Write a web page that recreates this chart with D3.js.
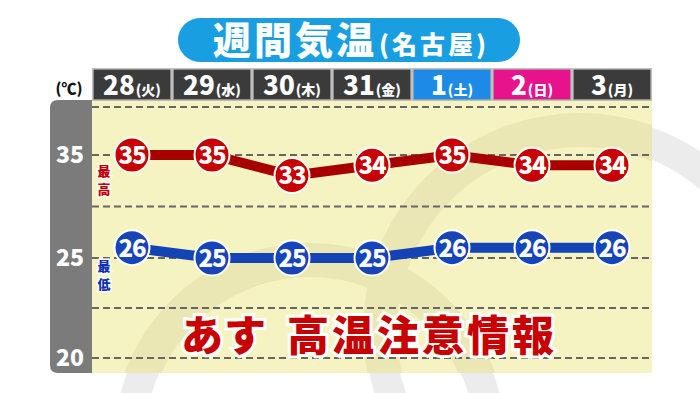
<!DOCTYPE html>
<html>
<head>
<meta charset="utf-8">
<script src="https://cdn.jsdelivr.net/npm/d3@7"></script>
<style>
  body { margin: 0; background: #fff; }
  svg { display: block; font-family: "Noto Sans CJK JP", "Noto Sans", sans-serif; }
</style>
</head>
<body>
<div id="chart"></div>
<script>
// data
var days = ["28", "29", "30", "31", "1", "2", "3"];
var weekdays = ["火", "水", "木", "金", "土", "日", "月"];
var highs = [35, 35, 33, 34, 35, 34, 34];
var lows = [26, 25, 25, 25, 26, 26, 26];
var tickLabels = [35, 25, 20];
var gridValues = [20, 22.5, 25, 30, 35, 40];

var w = 700, h = 393;
var plotL = 92, plotR = 652, plotT = 100, plotB = 373;

var svg = d3.select("#chart").append("svg")
    .attr("width", w)
    .attr("height", h);

svg.append("clipPath").attr("id", "plotClip")
    .append("rect")
    .attr("x", plotL).attr("y", plotT)
    .attr("width", plotR - plotL).attr("height", plotB - plotT);

// faint background decoration
var deco = svg.append("g").attr("fill", "none").attr("stroke", "#ececec").attr("stroke-width", 30);
deco.append("circle").attr("cx", 310).attr("cy", 440).attr("r", 180);
deco.append("circle").attr("cx", 580).attr("cy", 330).attr("r", 200);

// plot area
svg.append("rect")
    .attr("x", plotL).attr("y", plotT)
    .attr("width", plotR - plotL).attr("height", plotB - plotT)
    .attr("fill", "#f6f3c2");

var deco2 = svg.append("g").attr("clip-path", "url(#plotClip)")
    .attr("fill", "none").attr("stroke", "#ebe7b4").attr("stroke-width", 34);
deco2.append("circle").attr("cx", 310).attr("cy", 440).attr("r", 180);
deco2.append("circle").attr("cx", 580).attr("cy", 330).attr("r", 200);

// scales (broken axis)
var x = d3.scaleBand().domain(days).range([plotL, plotR]).padding(0);
var y = d3.scaleLinear().domain([20, 25, 35, 40]).range([358, 258, 155, 107]);
var cx = function(d, i) { return x(days[i]) + x.bandwidth() / 2; };

// gray axis band
svg.append("path")
    .attr("d", "M" + plotL + "," + plotT + " H58 Q50," + plotT + " 50," + (plotT + 8) +
        " V" + (plotB - 8) + " Q50," + plotB + " 58," + plotB + " H" + plotL + " Z")
    .attr("fill", "#7b7b7b");

svg.selectAll("text.tick")
    .data(tickLabels)
    .enter().append("text")
    .attr("class", "tick")
    .attr("x", 70)
    .attr("y", function(d) { return y(d); })
    .attr("dy", "0.36em")
    .attr("text-anchor", "middle")
    .attr("fill", "#fff")
    .attr("font-size", 23)
    .attr("font-weight", 900)
    .text(function(d) { return d; });

// grid lines
svg.selectAll("line.grid")
    .data(gridValues)
    .enter().append("line")
    .attr("class", "grid")
    .attr("x1", plotL).attr("x2", plotR)
    .attr("y1", function(d) { return y(d); })
    .attr("y2", function(d) { return y(d); })
    .attr("stroke", "#666")
    .attr("stroke-width", 2)
    .attr("stroke-dasharray", "7,4");

// title
svg.append("rect")
    .attr("x", 178).attr("y", 18)
    .attr("width", 342).attr("height", 44)
    .attr("rx", 22)
    .attr("fill", "#1a9ee2");
var title = svg.append("text")
    .attr("x", 351).attr("y", 54)
    .attr("text-anchor", "middle")
    .attr("fill", "#fff")
    .attr("font-weight", 900);
title.append("tspan").attr("font-size", 38).attr("letter-spacing", 3).text("週間気温");
title.append("tspan").attr("font-size", 25).attr("letter-spacing", 3).attr("dx", 2).text("(名古屋)");

// unit
svg.append("text")
    .attr("x", 69).attr("y", 94)
    .attr("text-anchor", "middle")
    .attr("font-size", 15)
    .attr("font-weight", 900)
    .attr("fill", "#111")
    .text("(℃)");

// header boxes
var boxColor = function(i) {
    if (weekdays[i] === "土") return "#1c8ae6";
    if (weekdays[i] === "日") return "#e8138c";
    return "#3b3b3b";
};
var head = svg.selectAll("g.head")
    .data(days)
    .enter().append("g")
    .attr("class", "head");
head.append("rect")
    .attr("x", function(d) { return x(d) + 1; })
    .attr("y", 69)
    .attr("width", x.bandwidth() - 2)
    .attr("height", 31)
    .attr("fill", function(d, i) { return boxColor(i); })
    .attr("stroke", "#aaa")
    .attr("stroke-width", 1.5);
var ht = head.append("text")
    .attr("x", function(d, i) { return cx(d, i); })
    .attr("y", 95)
    .attr("text-anchor", "middle")
    .attr("fill", "#fff")
    .attr("font-weight", 900);
ht.append("tspan").attr("font-size", 26).text(function(d) { return d; });
ht.append("tspan").attr("font-size", 14).attr("dx", 1).text(function(d, i) { return "(" + weekdays[i] + ")"; });

// series
function drawSeries(values, lineColor, dotColor) {
    var line = d3.line()
        .x(function(d, i) { return cx(d, i); })
        .y(function(d) { return y(d); });
    svg.append("path")
        .datum(values)
        .attr("d", line)
        .attr("fill", "none")
        .attr("stroke", lineColor)
        .attr("stroke-width", 10);
    var g = svg.append("g");
    g.selectAll("circle")
        .data(values)
        .enter().append("circle")
        .attr("cx", function(d, i) { return cx(d, i); })
        .attr("cy", function(d) { return y(d); })
        .attr("r", 17.5)
        .attr("fill", dotColor)
        .attr("stroke", "#fff")
        .attr("stroke-width", 2);
    g.selectAll("text")
        .data(values)
        .enter().append("text")
        .attr("x", function(d, i) { return cx(d, i); })
        .attr("y", function(d) { return y(d); })
        .attr("dy", "0.37em")
        .attr("text-anchor", "middle")
        .attr("fill", "#fff")
        .attr("font-size", 24)
        .attr("font-weight", 900)
        .attr("letter-spacing", -1)
        .text(function(d) { return d; });
}
drawSeries(highs, "#a80000", "#c70000");
drawSeries(lows, "#1343b5", "#1545b8");

// series labels
function sideLabel(chars, y0, color) {
    svg.selectAll(null)
        .data(chars)
        .enter().append("text")
        .attr("x", 104)
        .attr("y", function(d, i) { return y0 + i * 18; })
        .attr("text-anchor", "middle")
        .attr("font-size", 13)
        .attr("font-weight", 900)
        .attr("fill", color)
        .attr("stroke", "#fff")
        .attr("stroke-width", 3)
        .attr("paint-order", "stroke")
        .text(function(d) { return d; });
}
sideLabel(["最", "高"], y(35) + 21, "#c00000");
sideLabel(["最", "低"], y(25) + 13, "#1030b0");

// notice
var notice = svg.append("g")
    .attr("font-size", 42)
    .attr("font-weight", 900)
    .attr("fill", "#c80000")
    .attr("stroke", "#fff")
    .attr("stroke-width", 6)
    .attr("paint-order", "stroke");
notice.append("text").attr("x", 181).attr("y", 351).attr("letter-spacing", 1).text("あす");
notice.append("text").attr("x", 287).attr("y", 351).attr("letter-spacing", 3).text("高温注意情報");
</script>
</body>
</html>
